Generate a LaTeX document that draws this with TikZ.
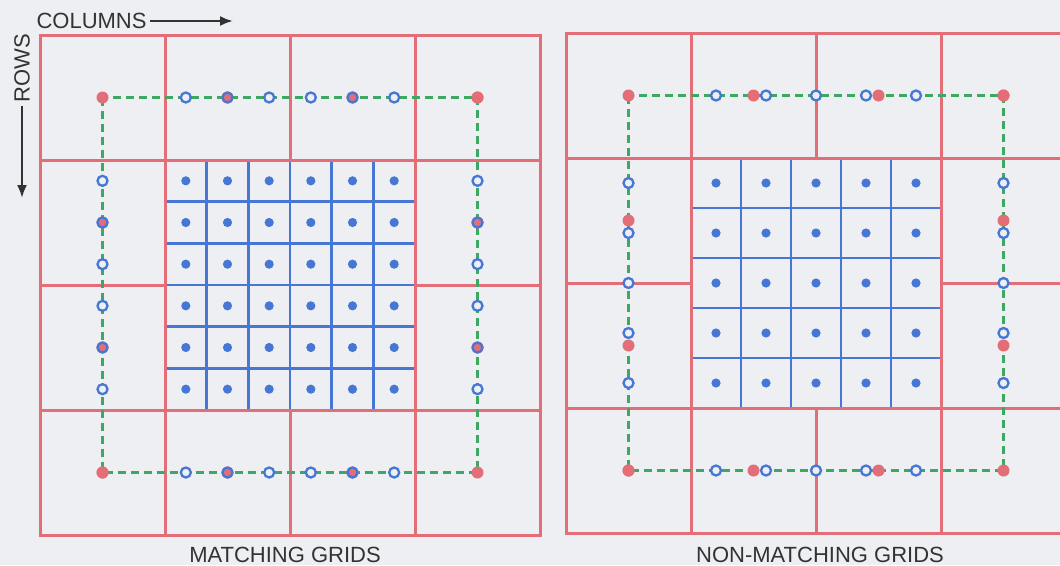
\documentclass[tikz,border=0pt]{standalone}
\usepackage{fontspec}
\setmainfont{Liberation Sans}
\usetikzlibrary{arrows.meta}

\definecolor{gridred}{HTML}{E46E78}
\definecolor{gridblue}{HTML}{4677D4}
\definecolor{ringgreen}{HTML}{3CA862}
\definecolor{paper}{HTML}{EDEFF2}
\definecolor{ink}{HTML}{333333}

\begin{document}
\begin{tikzpicture}[x=1pt, y=-1pt, every node/.style={font=\fontsize{22}{26}\selectfont, text=ink}, >={Latex[length=13pt, width=10pt]},
	redline/.style={gridred, line width=3pt},
	blueline/.style={gridblue, line width=2.4pt},
	ring/.style={ringgreen, line width=2.6pt, dash pattern=on 8pt off 5pt},
	bluering/.style={gridblue, line width=2.3pt},
	pointer/.style={->, ink, line width=2.2pt}]
	\useasboundingbox (0,0) rectangle (1060,565);
	\fill[paper] (0,0) rectangle (1060,565);
	\foreach \ox/\oy/\n in {40/35/6, 566/33/5} {
		\begin{scope}[shift={(\ox,\oy)}]
			\pgfmathsetmacro\s{250/\n}
			\pgfmathtruncatemacro\m{\n-1}
			\foreach \k in {1,...,\m} {
				\draw[blueline] ({125+\k*\s},125) -- ({125+\k*\s},375);
				\draw[blueline] (125,{125+\k*\s}) -- (375,{125+\k*\s});
			}
			\foreach \i in {1,...,\n}
				\foreach \j in {1,...,\n}
					\fill[gridblue] ({125+(\i-0.5)*\s},{125+(\j-0.5)*\s}) circle (4.6pt);
			\draw[redline] (0,0) rectangle (500,500)
				(125,0) -- (125,500) (375,0) -- (375,500)
				(0,125) -- (500,125) (0,375) -- (500,375)
				(250,0) -- (250,125) (250,375) -- (250,500)
				(0,250) -- (125,250) (375,250) -- (500,250);
			\draw[ring] (62.5,62.5) rectangle (437.5,437.5);
			\foreach \i in {1,...,\n} {
				\pgfmathsetmacro\u{125+(\i-0.5)*\s}
				\fill[paper] (\u,62.5) circle (5pt) (\u,437.5) circle (5pt)
					(62.5,\u) circle (5pt) (437.5,\u) circle (5pt);
			}
			\foreach \a in {62.5,187.5,312.5,437.5}
				\fill[gridred] (\a,62.5) circle (6pt) (\a,437.5) circle (6pt)
					(62.5,\a) circle (6pt) (437.5,\a) circle (6pt);
			\foreach \i in {1,...,\n} {
				\pgfmathsetmacro\u{125+(\i-0.5)*\s}
				\draw[bluering] (\u,62.5) circle (5pt) (\u,437.5) circle (5pt)
					(62.5,\u) circle (5pt) (437.5,\u) circle (5pt);
			}
		\end{scope}
	}
	\node[anchor=west] (columns) at (33,21) {COLUMNS};
	\coordinate (columnsend) at (233,21);
	\draw[pointer] (columns) -- (columnsend);
	\node[rotate=90] (rows) at (22,68) {ROWS};
	\coordinate (rowsend) at (22,198);
	\draw[pointer] (rows) -- (rowsend);
	\node[anchor=base] (matching) at (285,562) {MATCHING GRIDS};
	\node[anchor=base] (nonmatching) at (820,562) {NON-MATCHING GRIDS};
\end{tikzpicture}
\end{document}
